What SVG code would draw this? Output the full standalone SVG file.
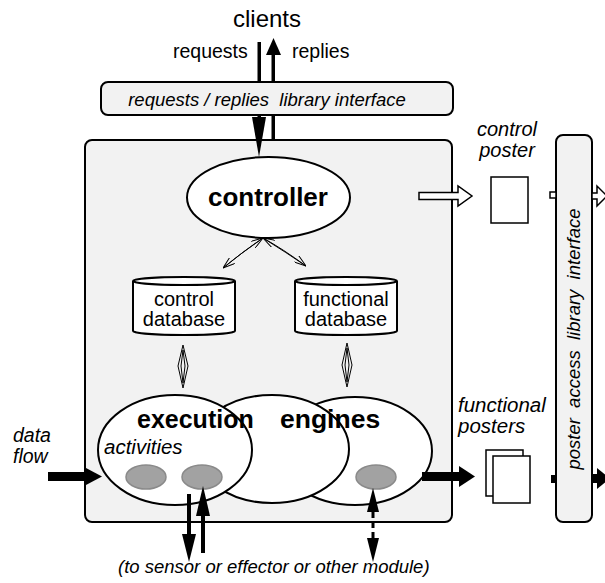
<svg xmlns="http://www.w3.org/2000/svg" width="605" height="583" viewBox="0 0 605 583">
<style>
text{font-family:"Liberation Sans",Arial,Helvetica,sans-serif;fill:#000;white-space:pre}
.it{font-style:italic}
.bd{font-weight:bold}
.box{fill:#f2f2f2;stroke:#000;stroke-width:2}
.wh{fill:#fff;stroke:#000;stroke-width:2}
.thin{fill:none;stroke:#000;stroke-width:1}
.gr{fill:#a2a2a2;stroke:#8a8a8a;stroke-width:1.5}
.blk{fill:#000;stroke:none}
</style>
<defs>
<marker id="v" viewBox="0 0 12 8" refX="12" refY="4" markerWidth="12" markerHeight="8" markerUnits="userSpaceOnUse" orient="auto-start-reverse">
<path d="M0,0 L12,4 L0,8" fill="none" stroke="#000" stroke-width="1"/>
</marker>
</defs>
<rect width="605" height="583" fill="#fff"/>

<g id="top-arrows-behind">
<rect class="blk" x="257.5" y="42" width="3.5" height="80"/>
<rect class="blk" x="271.5" y="52" width="3.5" height="90"/>
<polygon class="blk" points="266,55 281,55 273.5,38"/>
</g>

<g id="main-box"><rect class="box" x="85" y="140" width="367" height="382" rx="7"/></g>
<g id="interface-box">
<rect class="box" x="101" y="82" width="352" height="33" rx="7" stroke-width="1.5"/>
<text class="it" x="267" y="106" font-size="18.5" text-anchor="middle" xml:space="preserve">requests / replies  library interface</text>
</g>
<g id="poster-interface">
<rect class="box" x="556" y="135" width="36" height="387" rx="7" stroke-width="1.5"/>
<text class="it" font-size="18.5" text-anchor="middle" transform="translate(580,339) rotate(-90)" xml:space="preserve">poster  access  library  interface</text>
</g>

<g id="labels">
<text x="267" y="27" font-size="24" text-anchor="middle">clients</text>
<text x="173" y="58" font-size="19.5">requests</text>
<text x="292" y="58" font-size="19.5">replies</text>
<text class="it" x="13" y="442" font-size="19.5">data</text>
<text class="it" x="13" y="463" font-size="19.5">flow</text>
<text class="it" x="118" y="573" font-size="18.5">(to sensor or effector or other module)</text>
</g>

<g id="controller">
<ellipse class="wh" cx="268.5" cy="197.5" rx="81.5" ry="40.5"/>
<text class="bd" x="268" y="206" font-size="26" text-anchor="middle">controller</text>
</g>

<g id="control-database">
<path class="wh" d="M133,281 V331 A51,4 0 0 0 235,331 V281"/>
<ellipse class="wh" cx="184" cy="281" rx="51" ry="4"/>
<text x="184" y="306" font-size="20" text-anchor="middle">control</text>
<text x="184" y="326" font-size="20" text-anchor="middle">database</text>
</g>

<g id="functional-database">
<path class="wh" d="M295,281 V331 A51,4 0 0 0 397,331 V281"/>
<ellipse class="wh" cx="346" cy="281" rx="51" ry="4"/>
<text x="346" y="306" font-size="20" text-anchor="middle">functional</text>
<text x="346" y="326" font-size="20" text-anchor="middle">database</text>
</g>

<g id="execution-engines">
<ellipse class="wh" cx="355" cy="451" rx="77" ry="54"/>
<ellipse class="wh" cx="272" cy="449" rx="77" ry="54"/>
<ellipse class="wh" cx="175" cy="450" rx="77" ry="55"/>
<ellipse class="gr" cx="146" cy="477" rx="20" ry="12"/>
<ellipse class="gr" cx="202" cy="477" rx="20" ry="12"/>
<ellipse class="gr" cx="376" cy="477" rx="20" ry="12"/>
<text class="bd" x="137" y="428" font-size="25">execution</text>
<text class="bd" x="280" y="428" font-size="26.5">engines</text>
<text class="it" x="104" y="454" font-size="20.5">activities</text>
</g>

<g id="control-poster">
<text class="it" x="507" y="136" font-size="20" text-anchor="middle">control</text>
<text class="it" x="507" y="157" font-size="20" text-anchor="middle">poster</text>
<rect x="491" y="177" width="37" height="46" fill="#fff" stroke="#000" stroke-width="1.5"/>
</g>

<g id="functional-posters">
<text class="it" x="458" y="412" font-size="20.5">functional</text>
<text class="it" x="458" y="433" font-size="20.5">posters</text>
<rect x="486" y="450" width="37" height="46" fill="#fff" stroke="#000" stroke-width="1.5"/>
<rect x="493" y="456" width="37" height="47" fill="#fff" stroke="#000" stroke-width="1.5"/>
</g>

<g id="connectors">
<polygon class="blk" points="252,117 266,117 259,157"/>
<path class="thin" d="M263,238 Q245,250 223,268" marker-start="url(#v)" marker-end="url(#v)"/>
<path class="thin" d="M263,238 Q240,254 223,268"/>
<path class="thin" d="M263,238 Q283,249 306,266" marker-start="url(#v)" marker-end="url(#v)"/>
<path class="thin" d="M263,238 Q287,253 306,266"/>
<polygon class="thin" points="183,345 188,366 183,388 178,366"/>
<polygon class="thin" points="183,350 185,366 183,383 181,366"/>
<polygon class="thin" points="347,343 352,365 347,387 342,365"/>
<polygon class="thin" points="347,348 349,365 347,382 345,365"/>
<rect class="blk" x="48" y="472" width="40" height="9"/>
<polygon class="blk" points="86,468 102,476.5 86,485"/>
<rect class="blk" x="422" y="472" width="40" height="9"/>
<polygon class="blk" points="459,466 475,476.5 459,487"/>
<rect class="blk" x="187" y="494" width="4" height="42"/>
<polygon class="blk" points="182,534 196,534 189,562"/>
<rect class="blk" x="201" y="514" width="4" height="39"/>
<polygon class="blk" points="196,516 210,516 203,486"/>
<polygon class="blk" points="367,512 379,512 373,488"/>
<line x1="373" y1="512" x2="373" y2="540" stroke="#000" stroke-width="3" stroke-dasharray="6,4"/>
<polygon class="blk" points="367,538 379,538 373,562"/>
<polygon points="419,192.5 458,192.5 458,186 472,196 458,206 458,199.5 419,199.5" fill="#fff" stroke="#000" stroke-width="1.5"/>
<rect x="550" y="192" width="6" height="6" fill="#fff" stroke="#000" stroke-width="1.5"/>
<polygon points="592,193 597,193 597,186 607,196 597,206 597,199 592,199" fill="#fff" stroke="#000" stroke-width="1.5"/>
<rect class="blk" x="551" y="475" width="6" height="8"/>
<rect class="blk" x="592" y="474" width="6" height="9"/>
<polygon class="blk" points="597,468 610,478.5 597,489"/>
</g>
</svg>
